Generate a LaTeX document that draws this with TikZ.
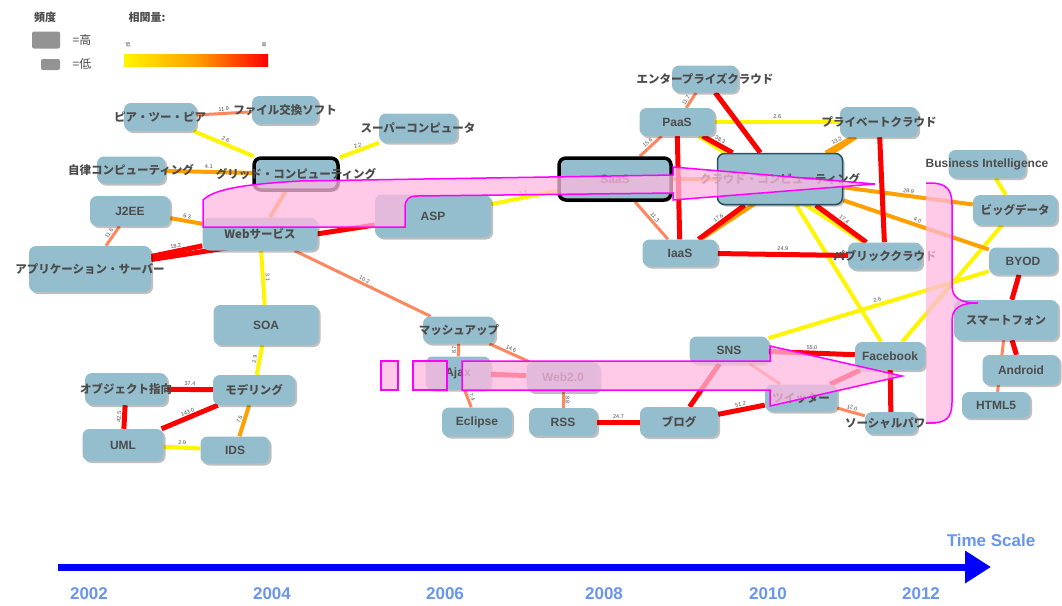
\documentclass[tikz,border=0pt]{standalone}
\usepackage{fontspec}
\setmainfont{Liberation Sans}
\newfontfamily\jp{Noto Sans CJK JP}
\usepackage{tikz}
\usetikzlibrary{shadows}
\usetikzlibrary{arrows.meta}

\definecolor{kblue}{RGB}{148,190,206}
\definecolor{kyellow}{RGB}{255,245,0}
\definecolor{korange}{RGB}{255,160,0}
\definecolor{ksalmon}{RGB}{255,135,95}
\definecolor{kred}{RGB}{255,0,0}
\definecolor{kpink}{RGB}{255,185,225}
\definecolor{kmagenta}{RGB}{255,0,255}
\definecolor{tblue}{RGB}{0,0,255}
\definecolor{yearblue}{RGB}{105,150,235}

\pgfdeclarelayer{bg}
\pgfsetlayers{bg,main}

\tikzset{
  kbox/.style={rounded corners=7pt, fill=kblue, inner sep=0pt,
    drop shadow={shadow xshift=2pt, shadow yshift=-2pt, opacity=0.25, fill=black}},
  hotbox/.style={kbox, draw=black, line width=3.5pt},
  mainbox/.style={kbox, draw={rgb,255:red,40;green,80;blue,100}, line width=1.5pt},
  ktext/.style={font=\bfseries\fontsize{12}{14}\selectfont, text=black!70, inner sep=0pt},
  jtext/.style={font=\jp\bfseries\fontsize{11.5}{14}\selectfont, text=black!70, inner sep=0pt},
  ey/.style={kyellow, line width=4pt},
  eo/.style={korange, line width=4pt},
  es/.style={ksalmon, line width=3pt},
  er/.style={kred, line width=5pt},
  elabel/.style={font=\fontsize{5.5}{6}\selectfont, text=black!70, sloped, above, inner sep=1pt},
  overlay/.style={fill=kpink, fill opacity=0.75, draw=kmagenta, line width=1.5pt},
  year/.style={font=\bfseries\fontsize{17}{20}\selectfont, text=yearblue},
  timeline/.style={tblue, line width=7pt, -{Triangle[length=26pt,width=31pt]}}
}

\begin{document}
\begin{tikzpicture}[x=1pt, y=-1pt]
  \begin{pgfonlayer}{bg}
    \fill[white] (0,0) rectangle (1062,605);
  \end{pgfonlayer}
  \useasboundingbox (0,0) rectangle (1062,605);

  % legend
  \node[jtext, font=\jp\bfseries\fontsize{11}{12}\selectfont] (freq) at (45,17) {頻度};
  \node[fill=gray!85, rounded corners=2pt, minimum width=28pt, minimum height=17pt] (hi) at (46,40) {};
  \node[jtext, font=\jp\fontsize{12}{14}\selectfont] (hitxt) at (82,40) {=高};
  \node[fill=gray!85, rounded corners=2pt, minimum width=19pt, minimum height=11pt] (lo) at (50.5,64.5) {};
  \node[jtext, font=\jp\fontsize{12}{14}\selectfont] (lotxt) at (82,64) {=低};
  \node[jtext, font=\jp\bfseries\fontsize{11}{12}\selectfont] (corr) at (147,17) {相関量:};
  \node[jtext, font=\jp\fontsize{5}{6}\selectfont] (corrlo) at (128,45) {低};
  \node[jtext, font=\jp\fontsize{5}{6}\selectfont] (corrhi) at (264,45) {高};
  \shade[left color=kyellow, right color=kred, middle color=korange] (124,54) rectangle (268,66);

  % keyword boxes
  \foreach \n/\x/\y/\w/\h in {p2p/160/117/72/28, share/285/110/66/28, super/418/128/78/29,
      auto/131/170/68/27, j2ee/130/211/80/30, web/260/234/115/33, apps/90/269/122/46,
      asp/433/216/116/43, paas/677/122/75/28, ent/705/79/66/27, iaas/680/253/75/27,
      priv/879/122/78/30, pub/885/256/74/27, bi/987/164/77/28, big/1015/210/84/30,
      byod/1023/261/68/27, smart/1006/320/104/40, android/1021/370/77/30,
      html5/996/405/68/26, soa/266/325/105/40, oop/126/389/82/32, model/254/390/82/30,
      uml/123/445/81/32, ids/235/450/69/27, mash/459/330/72/27, ajax/458/373/65/33,
      eclipse/477/422/70/29, web2/563/377/73/30, rss/563/422/68/28, blog/679/422/78/30,
      sns/729/350/79/27, fb/890/356/70/28, tw/801/398/72/27, social/891/423/52/22}
    \node[kbox, minimum width=\w pt, minimum height=\h pt] (\n) at (\x,\y) {};
  \node[hotbox, minimum width=84pt, minimum height=32pt] (grid) at (296,174) {};
  \node[hotbox, minimum width=112pt, minimum height=42pt] (saas) at (615,179) {};
  \node[mainbox, minimum width=125pt, minimum height=51pt] (cloud) at (780,179) {};

  % relations
  \begin{pgfonlayer}{bg}
    \foreach \a/\b/\l in {p2p/grid/2.6, super/grid/2.2, web/soa/3.1, asp/saas/3.3,
        paas/priv/2.6, paas/pub/{}, cloud/fb/{}, bi/big/{}, big/fb/{}, byod/sns/2.6,
        uml/ids/2.9, soa/model/2.9}
      \draw[ey] (\a) -- node[elabel] {\l} (\b);
    \foreach \a/\b/\l in {auto/grid/4.1, j2ee/web/6.3, grid/web/{}, saas/cloud/{},
        priv/cloud/13.2, iaas/priv/{}, cloud/big/28.9, cloud/byod/4.0, model/ids/7.6}
      \draw[eo] (\a) -- node[elabel] {\l} (\b);
    \foreach \a/\b/\l in {p2p/share/11.9, j2ee/apps/11.6, web/mash/10.2, saas/paas/15.6,
        saas/iaas/11.3, smart/html5/{}, sns/tw/{}, tw/social/12.0,
        web2/rss/8.8, mash/ajax/8.7, mash/web2/14.6, ajax/eclipse/7.4}
      \draw[es] (\a) -- node[elabel] {\l} (\b);
    \draw[es] (paas) -- node[elabel, pos=0.35] {11.7} (ent);
    \foreach \a/\b/\l in {apps/web/18.2, apps/asp/{}, ent/cloud/{}, paas/cloud/38.3,
        paas/iaas/{}, priv/pub/{}, iaas/cloud/17.6, iaas/pub/24.9, cloud/pub/17.4,
        byod/smart/{}, smart/android/{}, sns/fb/55.0, sns/blog/{}, tw/fb/{},
        fb/social/{}, blog/tw/51.2, rss/blog/24.7, ajax/web2/{}, oop/model/37.4,
        oop/uml/42.5, uml/model/143.0}
      \draw[er] (\a) -- node[elabel] {\l} (\b);
  \end{pgfonlayer}

  % keyword texts
  \foreach \n/\t in {j2ee/J2EE, asp/ASP, saas/SaaS, paas/PaaS, iaas/IaaS,
      bi/Business Intelligence, byod/BYOD, android/Android, html5/HTML5, soa/SOA,
      uml/UML, ids/IDS, ajax/Ajax, eclipse/Eclipse, web2/Web2.0, rss/RSS, sns/SNS,
      fb/Facebook}
    \node[ktext] (\n txt) at (\n) {\t};
  \foreach \n/\t in {p2p/ピア・ツー・ピア, share/ファイル交換ソフト, super/スーパーコンピュータ,
      auto/自律コンピューティング, grid/グリッド・コンピューティング, web/Webサービス,
      apps/アプリケーション・サーバー, ent/エンタープライズクラウド,
      cloud/クラウド・コンピューティング, priv/プライベートクラウド, pub/パブリッククラウド,
      big/ビッグデータ, smart/スマートフォン, oop/オブジェクト指向, model/モデリング,
      mash/マッシュアップ, blog/ブログ, tw/ツイッター, social/ソーシャルパワー}
    \node[jtext] (\n txt) at (\n) {\t};

  % highlighted trends
  \draw[overlay] (203,227) -- (203,200) .. controls (215,188) and (250,184) .. (300,181)
    -- (673,175) -- (673,167) -- (875,184) -- (673,200) -- (673,193) -- (418,196)
    .. controls (408,196) and (405,200) .. (405,208) -- (405,227) -- cycle;
  \draw[overlay] (381,361) rectangle (398,390);
  \draw[overlay] (413,361) rectangle (447,390);
  \draw[overlay] (462,361) -- (770,361) -- (770,346) -- (902,376) -- (770,406)
    -- (770,390) -- (462,390) -- cycle;
  \fill[kpink, fill opacity=0.75] (926,183) -- (930,183) .. controls (947,183) and (952,190) .. (952,205)
    -- (952,285) .. controls (952,298) and (960,303) .. (978,303)
    .. controls (960,303) and (952,308) .. (952,321) -- (952,402)
    .. controls (952,418) and (946,423) .. (930,423) -- (926,423) -- cycle;
  \draw[kmagenta, line width=1.5pt] (926,183) -- (930,183) .. controls (947,183) and (952,190) .. (952,205)
    -- (952,285) .. controls (952,298) and (960,303) .. (978,303)
    .. controls (960,303) and (952,308) .. (952,321) -- (952,402)
    .. controls (952,418) and (946,423) .. (930,423) -- (926,423);

  % time scale
  \coordinate (t0) at (58,567);
  \coordinate (t1) at (991,567);
  \draw[timeline] (t0) -- (t1);
  \node[year] (tscale) at (991,540) {Time Scale};
  \foreach \yr/\x in {2002/89, 2004/272, 2006/445, 2008/604, 2010/768, 2012/921}
    \node[year] (y\yr) at (\x,594) {\yr};
\end{tikzpicture}
\end{document}
